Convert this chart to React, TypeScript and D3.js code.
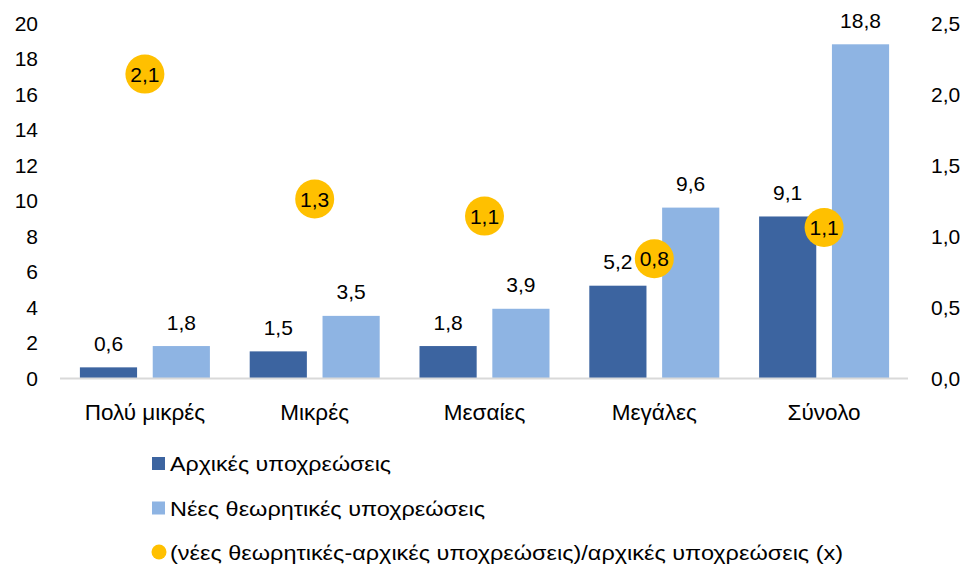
import React from "react";
import * as d3 from "d3";

const categories = ["Πολύ μικρές", "Μικρές", "Μεσαίες", "Μεγάλες", "Σύνολο"];
const initialLiab = [0.6, 1.5, 1.8, 5.2, 9.1];
const newLiab = [1.8, 3.5, 3.9, 9.6, 18.8];
const ratio = [2.14, 1.26, 1.14, 0.84, 1.06];
const leftTicks = [0, 2, 4, 6, 8, 10, 12, 14, 16, 18, 20];
const rightTicks = [0, 0.5, 1, 1.5, 2, 2.5];
const seriesNames = [
  "Αρχικές υποχρεώσεις",
  "Νέες θεωρητικές υποχρεώσεις",
  "(νέες θεωρητικές-αρχικές υποχρεώσεις)/αρχικές υποχρεώσεις (x)",
];

const W = 968;
const H = 565;
const plot = { left: 60, right: 909, top: 23, bottom: 378 };
const DARK = "#3C64A0";
const LIGHT = "#8EB4E3";
const GOLD = "#FFC000";
const FONT = "'Liberation Sans', Arial, sans-serif";

const fmt = (v: number) => d3.format(".1f")(v).replace(".", ",");

export default function App() {
  const x = d3.scaleBand<string>().domain(categories).range([plot.left, plot.right]).paddingInner(0).paddingOuter(0);
  const inner = d3
    .scaleBand<string>()
    .domain(["a", "b"])
    .range([19.9, x.bandwidth() - 19.9])
    .paddingInner(0.215);
  const yL = d3.scaleLinear().domain([0, 20]).range([plot.bottom, plot.top]);
  const yR = d3.scaleLinear().domain([0, 2.5]).range([plot.bottom, plot.top]);

  return (
    <svg width={W} height={H} style={{ position: "absolute", left: 0, top: 0, background: "#fff" }} fontFamily={FONT}>
      {/* left axis */}
      {leftTicks.map((t) => (
        <text key={"l" + t} x={38} y={yL(t)} textAnchor="end" dominantBaseline="central" fontSize={21} fill="#000">
          {t}
        </text>
      ))}
      {/* right axis */}
      {rightTicks.map((t) => (
        <text key={"r" + t} x={931} y={yR(t)} textAnchor="start" dominantBaseline="central" fontSize={21} fill="#000">
          {fmt(t)}
        </text>
      ))}
      {/* bars */}
      {categories.map((c, i) => {
        const x0 = x(c)!;
        return (
          <g key={c}>
            <rect x={x0 + inner("a")!} y={yL(initialLiab[i])} width={inner.bandwidth()} height={yL(0) - yL(initialLiab[i])} fill={DARK} />
            <rect x={x0 + inner("b")!} y={yL(newLiab[i])} width={inner.bandwidth()} height={yL(0) - yL(newLiab[i])} fill={LIGHT} />
            <text x={x0 + inner("a")! + inner.bandwidth() / 2} y={yL(initialLiab[i]) - 24} textAnchor="middle" dominantBaseline="central" fontSize={21}>
              {fmt(initialLiab[i])}
            </text>
            <text x={x0 + inner("b")! + inner.bandwidth() / 2} y={yL(newLiab[i]) - 24} textAnchor="middle" dominantBaseline="central" fontSize={21}>
              {fmt(newLiab[i])}
            </text>
            <text x={x0 + x.bandwidth() / 2} y={412} textAnchor="middle" dominantBaseline="central" fontSize={22.5}>
              {c}
            </text>
          </g>
        );
      })}
      {/* baseline */}
      <line x1={plot.left} x2={plot.right - 1} y1={plot.bottom + 0.5} y2={plot.bottom + 0.5} stroke="#D9D9D9" strokeWidth={2} />
      {/* ratio markers */}
      {categories.map((c, i) => (
        <g key={"m" + c}>
          <circle cx={x(c)! + x.bandwidth() / 2} cy={yR(ratio[i])} r={19.5} fill={GOLD} />
          <text x={x(c)! + x.bandwidth() / 2} y={yR(ratio[i])} textAnchor="middle" dominantBaseline="central" fontSize={21}>
            {fmt(ratio[i])}
          </text>
        </g>
      ))}
      {/* legend */}
      <rect x={152} y={457} width={13} height={13} fill={DARK} />
      <text x={170} y={463.5} dominantBaseline="central" fontSize={21} textLength={221} lengthAdjust="spacingAndGlyphs">
        {seriesNames[0]}
      </text>
      <rect x={152} y={501.5} width={13} height={13} fill={LIGHT} />
      <text x={170} y={508} dominantBaseline="central" fontSize={21} textLength={315} lengthAdjust="spacingAndGlyphs">
        {seriesNames[1]}
      </text>
      <circle cx={159} cy={552} r={7.5} fill={GOLD} />
      <text x={170} y={552} dominantBaseline="central" fontSize={21} textLength={673} lengthAdjust="spacingAndGlyphs">
        {seriesNames[2]}
      </text>
    </svg>
  );
}
